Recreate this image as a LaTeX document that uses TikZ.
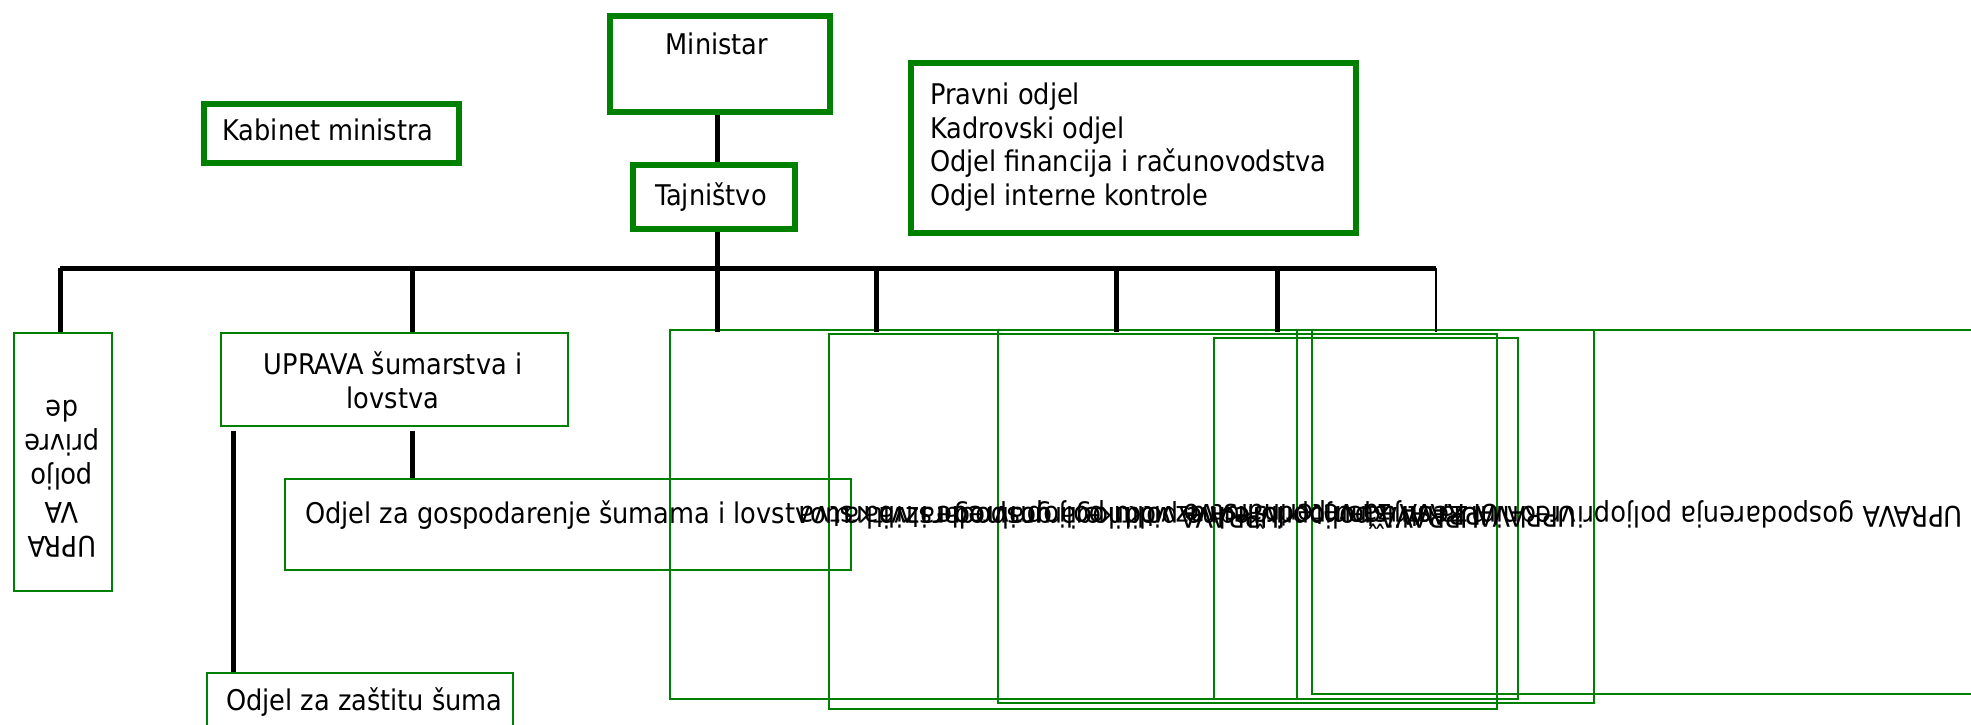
\documentclass[tikz,border=0pt]{standalone}
\usepackage{fontspec}
\setmainfont{DejaVu Sans Condensed}
\definecolor{boxgreen}{RGB}{0,128,0}
\tikzset{
  every node/.style={font=\fontsize{28.5}{34}\selectfont, inner sep=0pt},
  heavybox/.style={draw=boxgreen, line width=6pt, fill=white, anchor=north west},
  lightbox/.style={draw=boxgreen, line width=1.6pt, anchor=north west},
  conn/.style={draw=black, line width=5pt},
  thinconn/.style={draw=black, line width=2pt},
  flipped/.style={rotate=180, anchor=west},
}
\begin{document}
\begin{tikzpicture}[x=1pt, y=-1pt]
\useasboundingbox (0,0) rectangle (1971,724);
\clip (0,0) rectangle (1971,724);

% top level
\node[heavybox, minimum width=220pt, minimum height=96pt] (min) at (607,13) {};
\node (mintext) at (717,44) {Ministar};
\node[heavybox, minimum width=255pt, minimum height=59pt] (kab) at (201,101) {};
\node (kabtext) at (328,130) {Kabinet ministra};
\node[heavybox, minimum width=162pt, minimum height=64pt] (taj) at (630,162) {};
\node (tajtext) at (711,197) {Tajništvo};
\node[heavybox, minimum width=445pt, minimum height=170pt] (odj) at (908,60) {};
\node[anchor=west, align=left, font=\fontsize{28.5}{33.7}\selectfont] (odjtext) at (930,147)
  {Pravni odjel\\Kadrovski odjel\\Odjel financija i računovodstva\\Odjel interne kontrole};

% main bar and drops
\coordinate (barL) at (60,268);
\coordinate (barR) at (1436,268);
\coordinate (dB) at (412,268);
\coordinate (dC) at (717,268);
\coordinate (dD) at (876,268);
\coordinate (dE) at (1116,268);
\coordinate (dF) at (1277,268);
\draw[conn] (min.south -| dC) -- (taj.north -| dC);
\draw[conn] (taj.south -| dC) -- (dC);
\draw[conn] (barL) -- (barR);

% lower boxes
\node[lightbox, minimum width=98pt, minimum height=258pt] (polj) at (13,332) {};
\node[lightbox, minimum width=347pt, minimum height=93pt] (sum) at (220,332) {};
\node[align=center] (sumtext) at (393,380) {UPRAVA šumarstva i\\lovstva};
\node[lightbox, minimum width=566pt, minimum height=91pt] (gosp) at (284,478) {};
\node[lightbox, minimum width=306pt, minimum height=70pt] (zas) at (206,672) {};
\node[anchor=west] (zastext) at (226,702) {Odjel za zaštitu šuma};

\node[lightbox, minimum width=627pt, minimum height=369pt] (ua) at (669,329) {};
\node[lightbox, minimum width=668pt, minimum height=375pt] (ub) at (828,333) {};
\node[lightbox, minimum width=596pt, minimum height=373pt] (uc) at (997,329) {};
\node[lightbox, minimum width=304pt, minimum height=361pt] (ud) at (1213,337) {};
\node[lightbox, minimum width=700pt, minimum height=364pt] (ue) at (1311,329) {};

\draw[conn] (barL) -- (barL |- polj.north);
\draw[conn] (dB) -- (dB |- polj.north);
\draw[conn] (dC) -- (dC |- polj.north);
\draw[conn] (dD) -- (dD |- polj.north);
\draw[conn] (dE) -- (dE |- polj.north);
\draw[conn] (dF) -- (dF |- polj.north);
\draw[thinconn] (barR) -- (barR |- polj.north);

\coordinate (s1) at ([xshift=18.5pt,yshift=-4pt]sum.south);
\coordinate (s2) at ([xshift=-160.5pt,yshift=-4pt]sum.south);
\draw[conn] (s1) -- (s1 |- gosp.north);
\draw[conn] (s2) -- (s2 |- zas.north);

% texts
\node[align=center, rotate=180] (poljtext) at (62,479) {UPRA\\VA\\poljo\\privre\\de};
\node[anchor=west] (gosptext) at (305,515) {Odjel za gospodarenje šumama i lovstvom};
\node[flipped] (uatext) at (1280,515) {UPRAVA vodnoga gospodarstva};
\node[flipped] (ubtext) at (1480,515) {UPRAVA poljoprivredne politike i ruralnog razvitka};
\node[flipped] (uctext) at (1577,515) {UPRAVA za stručnu podršku razvitku poljoprivrede i ribarstva};
\node[flipped] (udtext) at (1500,515) {UPRAVA za veterinarstvo};
\node[flipped] (uetext) at (1963,515) {UPRAVA gospodarenja poljoprivrednim zemljištem};
\end{tikzpicture}
\end{document}
